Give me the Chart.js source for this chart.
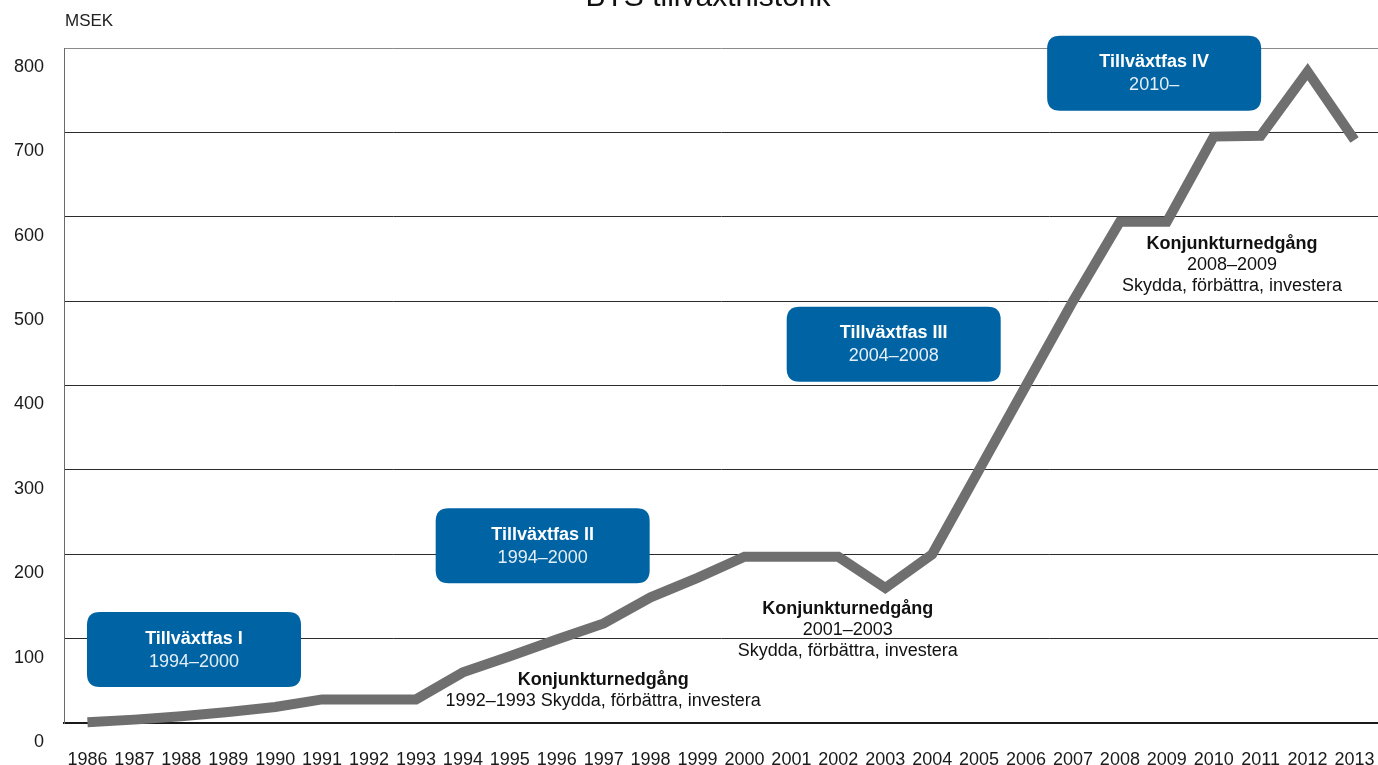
<!DOCTYPE html>
<html lang="sv">
<head>
<meta charset="utf-8">
<title>BTS tillväxthistorik</title>
<script src="https://cdn.jsdelivr.net/npm/chart.js@4.4.1/dist/chart.umd.min.js"></script>
<style>
    html, body { margin: 0; padding: 0; background: #fff; overflow: hidden; }
    #wrap { width: 1378px; height: 765px; position: relative; }
</style>
</head>
<body>
<div id="wrap"><canvas id="growthChart"></canvas></div>
<script>
// Nettoomsättning per år, MSEK
const years = ['1986', '1987', '1988', '1989', '1990', '1991', '1992', '1993', '1994', '1995',
    '1996', '1997', '1998', '1999', '2000', '2001', '2002', '2003', '2004', '2005',
    '2006', '2007', '2008', '2009', '2010', '2011', '2012', '2013'];
const sales = [1, 4, 8, 13, 19, 28, 28, 28, 60, 79,
    99, 118, 149, 172, 197, 197, 197, 160, 200, 300,
    400, 500, 594, 594, 695, 696, 772, 691];

const yMin = 0;
const yMax = 800;
const yStep = 100;

// Blue phase boxes, placed in axis units (x = year index, y = MSEK at box centre)
const phases = [
    { title: 'Tillväxtfas I', period: '1994–2000', x: 2.27, y: 87 },
    { title: 'Tillväxtfas II', period: '1994–2000', x: 9.70, y: 210 },
    { title: 'Tillväxtfas III', period: '2004–2008', x: 17.18, y: 449 },
    { title: 'Tillväxtfas IV', period: '2010–', x: 22.73, y: 770 }
];

// Recession notes, first line bold
const downturns = [
    { lines: ['Konjunkturnedgång', '1992–1993 Skydda, förbättra, investera'], x: 10.99, y: 51 },
    { lines: ['Konjunkturnedgång', '2001–2003', 'Skydda, förbättra, investera'], x: 16.20, y: 135 },
    { lines: ['Konjunkturnedgång', '2008–2009', 'Skydda, förbättra, investera'], x: 24.39, y: 568 }
];

const FONT = "'Liberation Sans', Arial, Helvetica, sans-serif";
Chart.defaults.font.family = FONT;

function roundRect(ctx, x, y, w, h, r) {
    ctx.beginPath();
    ctx.moveTo(x + r, y);
    ctx.lineTo(x + w - r, y);
    ctx.quadraticCurveTo(x + w, y, x + w, y + r);
    ctx.lineTo(x + w, y + h - r);
    ctx.quadraticCurveTo(x + w, y + h, x + w - r, y + h);
    ctx.lineTo(x + r, y + h);
    ctx.quadraticCurveTo(x, y + h, x, y + h - r);
    ctx.lineTo(x, y + r);
    ctx.quadraticCurveTo(x, y, x + r, y);
    ctx.closePath();
}

const decorations = {
    id: 'decorations',
    afterDraw(chart) {
        const ctx = chart.ctx;
        const xs = chart.scales.x;
        const ys = chart.scales.y;
        ctx.save();

        // heading, sits half outside the top edge
        ctx.fillStyle = '#111';
        ctx.textAlign = 'center';
        ctx.textBaseline = 'alphabetic';
        ctx.font = '30px ' + FONT;
        ctx.fillText('BTS tillväxthistorik', 708, 6);

        // unit label
        ctx.textAlign = 'left';
        ctx.textBaseline = 'middle';
        ctx.font = '17px ' + FONT;
        ctx.fillStyle = '#222';
        ctx.fillText('MSEK', 65, 21);

        // phase boxes
        const bw = 214, bh = 75;
        phases.forEach(p => {
            const cx = xs.getPixelForValue(p.x);
            const cy = ys.getPixelForValue(p.y);
            ctx.fillStyle = '#0063a3';
            roundRect(ctx, cx - bw / 2, cy - bh / 2, bw, bh, 13);
            ctx.fill();
            ctx.fillStyle = '#fff';
            ctx.textAlign = 'center';
            ctx.font = 'bold 18px ' + FONT;
            ctx.fillText(p.title, cx, cy - 11);
            ctx.fillStyle = '#e4eef7';
            ctx.font = '18px ' + FONT;
            ctx.fillText(p.period, cx, cy + 12);
        });

        // downturn notes
        downturns.forEach(d => {
            const cx = xs.getPixelForValue(d.x);
            const cy = ys.getPixelForValue(d.y);
            d.lines.forEach((t, i) => {
                ctx.fillStyle = '#111';
                ctx.textAlign = 'center';
                ctx.font = (i === 0 ? 'bold ' : '') + '18px ' + FONT;
                ctx.fillText(t, cx, cy + i * 21);
            });
        });

        ctx.restore();
    }
};

new Chart(document.getElementById('growthChart'), {
    type: 'line',
    data: {
        labels: years,
        datasets: [{
            label: 'Nettoomsättning',
            data: sales,
            borderColor: '#6f6f6f',
            borderWidth: 10,
            borderJoinStyle: 'miter',
            borderCapStyle: 'butt',
            pointRadius: 0,
            pointHoverRadius: 0,
            tension: 0,
            fill: false,
            clip: false
        }]
    },
    options: {
        responsive: true,
        maintainAspectRatio: false,
        animation: false,
        layout: { padding: { top: 48, right: 0, left: 0, bottom: 0 } },
        plugins: {
            legend: { display: false },
            title: { display: false },
            tooltip: { enabled: false }
        },
        scales: {
            x: {
                offset: true,
                grid: { display: false, drawTicks: false },
                border: { display: true, color: '#1a1a1a', width: 2 },
                ticks: {
                    color: '#1a1a1a',
                    font: { size: 18 },
                    padding: 26,
                    maxRotation: 0,
                    autoSkip: false
                },
                afterFit(scale) {
                    scale.height = 42;
                    scale.paddingLeft = 0;
                    scale.paddingRight = 0;
                }
            },
            y: {
                min: yMin,
                max: yMax,
                grid: {
                    drawTicks: false,
                    lineWidth: 1,
                    color: ctx => ctx.tick && ctx.tick.value === yMax ? '#8a8a8a' : '#2b2b2b'
                },
                border: { display: true, color: '#6a6a6a', width: 1 },
                ticks: {
                    stepSize: yStep,
                    color: '#1a1a1a',
                    font: { size: 18 },
                    padding: 20,
                    labelOffset: 19
                },
                afterFit(scale) { scale.width = 64; }
            }
        }
    },
    plugins: [decorations]
});
</script>
</body>
</html>
